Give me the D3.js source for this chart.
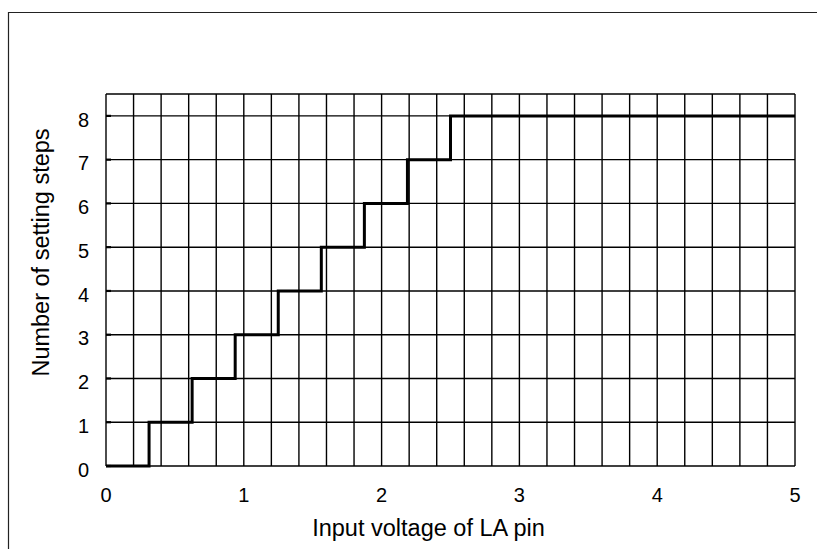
<!DOCTYPE html>
<html>
<head>
<meta charset="utf-8">
<script src="https://cdn.jsdelivr.net/npm/d3@7"></script>
<style>
html,body{margin:0;padding:0;background:#fff;}
text{font-family:"Liberation Sans",Arial,sans-serif;fill:#000;}
</style>
</head>
<body>
<svg id="chart" width="817" height="549"></svg>
<script>
// Data
const stepX = [0, 0.3125, 0.625, 0.9375, 1.25, 1.5625, 1.875, 2.1875, 2.5, 5];
const stepLevel = [0, 1, 2, 3, 4, 5, 6, 7, 8, 8];
const xTicks = [0, 1, 2, 3, 4, 5];
const yTicks = [0, 1, 2, 3, 4, 5, 6, 7, 8];
const xGrid = d3.range(0, 26).map(i => i * 0.2);
const yGrid = [0, 1, 2, 3, 4, 5, 6, 7, 8, 8.5];
const xTitle = "Input voltage of LA pin";
const yTitle = "Number of setting steps";

const svg = d3.select("#chart");
const x = d3.scaleLinear().domain([0, 5]).range([106, 795]);
const y = d3.scaleLinear().domain([0, 8.5]).range([466, 94]);

// outer frame (top and left)
svg.append("path")
  .attr("d", "M8.5,549 L8.5,12.5 L817,12.5")
  .attr("fill", "none").attr("stroke", "#222").attr("stroke-width", 1.2);

// grid
const g = svg.append("g");
g.selectAll("line.vx").data(xGrid).join("line")
  .attr("x1", d => x(d)).attr("x2", d => x(d))
  .attr("y1", y(0)).attr("y2", y(8.5))
  .attr("stroke", "#000").attr("stroke-width", 1.4);
g.selectAll("line.hy").data(yGrid).join("line")
  .attr("class","hy")
  .attr("x1", x(0)).attr("x2", x(5))
  .attr("y1", d => y(d)).attr("y2", d => y(d))
  .attr("stroke", "#000").attr("stroke-width", 1.4);

// inner ticks on left axis
g.selectAll("line.tk").data(yTicks).join("line")
  .attr("class","tk")
  .attr("x1", x(0)).attr("x2", x(0) + 5)
  .attr("y1", d => y(d)).attr("y2", d => y(d))
  .attr("stroke", "#000").attr("stroke-width", 2.2);

// step line
const pts = stepX.map((v, i) => [v, stepLevel[i]]);
svg.append("path")
  .datum(pts)
  .attr("d", d3.line().x(d => x(d[0])).y(d => y(d[1])).curve(d3.curveStepAfter))
  .attr("fill", "none").attr("stroke", "#000").attr("stroke-width", 3);

// tick labels
svg.selectAll("text.xt").data(xTicks).join("text")
  .attr("class","xt")
  .attr("x", d => x(d)).attr("y", 502)
  .attr("text-anchor", "middle")
  .style("font-size", "20px")
  .text(d => d);
svg.selectAll("text.yt").data(yTicks).join("text")
  .attr("class","yt")
  .attr("x", 89).attr("y", d => y(d) + 10.7)
  .attr("text-anchor", "end")
  .style("font-size", "20px")
  .text(d => d);

// axis titles
svg.append("text")
  .attr("x", 428.5).attr("y", 536)
  .attr("text-anchor", "middle")
  .style("font-size", "23.5px")
  .text(xTitle);
svg.append("text")
  .attr("transform", "translate(49,252.5) rotate(-90)")
  .attr("text-anchor", "middle")
  .style("font-size", "23.5px")
  .text(yTitle);
</script>
</body>
</html>
